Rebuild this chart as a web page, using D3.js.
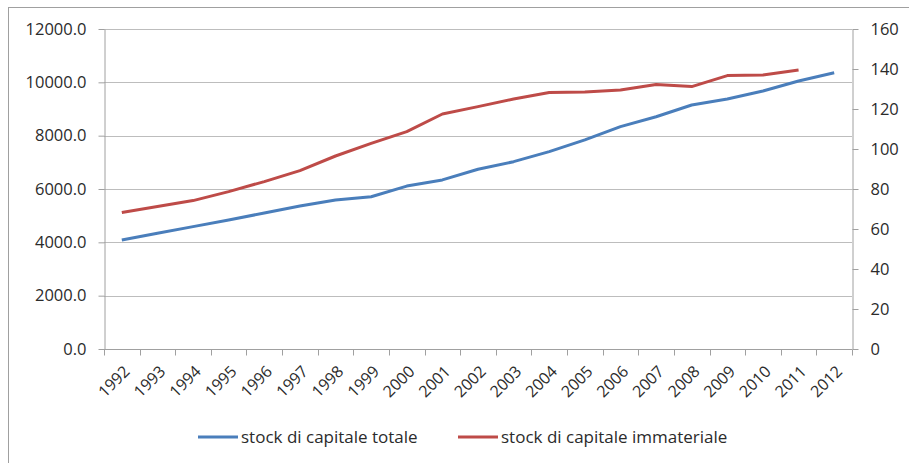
<!DOCTYPE html>
<html>
<head>
<meta charset="utf-8">
<style>
  body { margin: 0; background: #fff; }
  svg text { font-family: "Open Sans", "Noto Sans", sans-serif; fill: #2b2b2b; }
  .grid line { stroke: #bdbdbd; stroke-width: 1; }
  .axis path, .axis line { stroke: #a0a0a0; }
</style>
</head>
<body>
<div id="chart"></div>
<script src="https://cdn.jsdelivr.net/npm/d3@7"></script>
<script>
'use strict';

var width = 909,
    height = 463;

var years = ['1992', '1993', '1994', '1995', '1996', '1997', '1998', '1999', '2000', '2001', '2002',
             '2003', '2004', '2005', '2006', '2007', '2008', '2009', '2010', '2011', '2012'];

// stock di capitale totale (asse sinistro)
var totale = [4090, 4340, 4590, 4840, 5100, 5360, 5590, 5710, 6110, 6340, 6740,
              7025, 7400, 7840, 8340, 8710, 9150, 9375, 9675, 10050, 10360];

// stock di capitale immateriale (asse destro)
var immateriale = [68.2, 71.2, 74.2, 78.7, 83.7, 89.2, 96.5, 102.8, 108.7, 117.5, 121.2,
                   125, 128.2, 128.5, 129.5, 132.3, 131.2, 136.7, 137, 139.5, null];

var leftTicks = [0, 2000, 4000, 6000, 8000, 10000, 12000];
var rightTicks = [0, 20, 40, 60, 80, 100, 120, 140, 160];

var margin = { top: 29, right: 57, bottom: 114, left: 104 };
var pw = width - margin.left - margin.right,
    ph = height - margin.top - margin.bottom;

var svg = d3.select('#chart').append('svg')
  .attr('width', width).attr('height', height);

svg.append('rect')
  .attr('x', 8.5).attr('y', 7.5)
  .attr('width', 920).attr('height', 480)
  .attr('fill', 'none').attr('stroke', '#a0a0a0');

var g = svg.append('g').attr('transform', 'translate(' + margin.left + ',' + margin.top + ')');

var x = d3.scaleBand().domain(years).range([0, pw]);
var yL = d3.scaleLinear().domain([0, 12000]).range([ph, 0]);
var yR = d3.scaleLinear().domain([0, 160]).range([ph, 0]);

// griglia
g.append('g').attr('class', 'grid')
  .selectAll('line').data(leftTicks.slice(1)).enter().append('line')
  .attr('x1', 0).attr('x2', pw)
  .attr('y1', function(d) { return Math.round(yL(d)) + 0.5; })
  .attr('y2', function(d) { return Math.round(yL(d)) + 0.5; });

// asse sinistro
var axL = g.append('g').attr('class', 'axis')
  .attr('transform', 'translate(0.5,0)')
  .call(d3.axisLeft(yL).tickValues(leftTicks).tickFormat(d3.format('.1f')).tickSize(6).tickSizeOuter(0).tickPadding(12));
axL.selectAll('text').style('font-size', '16.5px');

// asse destro
var axR = g.append('g').attr('class', 'axis')
  .attr('transform', 'translate(' + (pw + 0.5) + ',0)')
  .call(d3.axisRight(yR).tickValues(rightTicks).tickSize(6).tickSizeOuter(0).tickPadding(12));
axR.selectAll('text').style('font-size', '16.5px');

// asse x (tacche tra le categorie)
var axX = g.append('g').attr('class', 'axis')
  .attr('transform', 'translate(0,' + (ph + 0.5) + ')');
axX.append('line').attr('x1', 0).attr('x2', pw);
axX.selectAll('line.tk').data(d3.range(years.length + 1)).enter().append('line')
  .attr('class', 'tk')
  .attr('x1', function(i) { return Math.round(i * x.step()) + 0.5; })
  .attr('x2', function(i) { return Math.round(i * x.step()) + 0.5; })
  .attr('y1', 0).attr('y2', 6);
axX.selectAll('text').data(years).enter().append('text')
  .attr('transform', function(d) {
    return 'translate(' + (x(d) + x.bandwidth() / 2 + 5) + ',19) rotate(-45)';
  })
  .attr('text-anchor', 'end')
  .attr('dy', '0.35em')
  .style('font-size', '16px')
  .text(function(d) { return d; });

// linee
var lineL = d3.line()
  .x(function(d, i) { return x(years[i]) + x.bandwidth() / 2; })
  .y(function(d) { return yL(d); });

var lineR = d3.line()
  .defined(function(d) { return d != null; })
  .x(function(d, i) { return x(years[i]) + x.bandwidth() / 2; })
  .y(function(d) { return yR(d); });

g.append('path').datum(totale)
  .attr('d', lineL).attr('fill', 'none')
  .attr('stroke', '#4a7ebb').attr('stroke-width', 3).attr('stroke-linejoin', 'round');

g.append('path').datum(immateriale)
  .attr('d', lineR).attr('fill', 'none')
  .attr('stroke', '#be4b48').attr('stroke-width', 3).attr('stroke-linejoin', 'round');

// legenda
var legend = [
  { name: 'stock di capitale totale', color: '#4a7ebb', x: 198 },
  { name: 'stock di capitale immateriale', color: '#be4b48', x: 458 }
];
var lg = svg.selectAll('g.legend').data(legend).enter().append('g')
  .attr('class', 'legend')
  .attr('transform', function(d) { return 'translate(' + d.x + ',437)'; });
lg.append('line').attr('x1', 0).attr('x2', 40)
  .attr('stroke', function(d) { return d.color; }).attr('stroke-width', 3);
lg.append('text').attr('x', 43).attr('dy', '0.35em')
  .style('font-size', '17px')
  .text(function(d) { return d.name; });
</script>
</body>
</html>
